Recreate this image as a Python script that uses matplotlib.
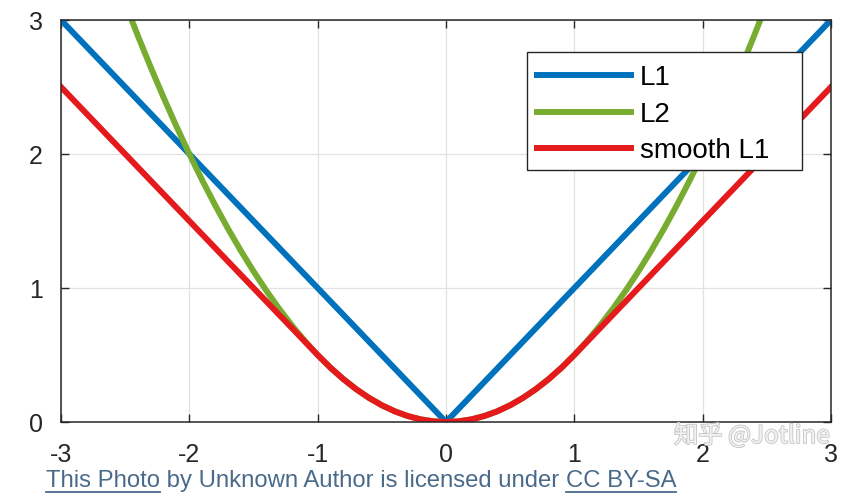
import matplotlib
matplotlib.use("Agg")
import matplotlib.pyplot as plt
import matplotlib.patheffects as pe
from matplotlib.lines import Line2D
from matplotlib.patches import Rectangle

# values (step 0.1 on x)
x_vals = [-3.0, -2.9, -2.8, -2.7, -2.6, -2.5, -2.4, -2.3, -2.2, -2.1,
          -2.0, -1.9, -1.8, -1.7, -1.6, -1.5, -1.4, -1.3, -1.2, -1.1,
          -1.0, -0.9, -0.8, -0.7, -0.6, -0.5, -0.4, -0.3, -0.2, -0.1,
          0.0, 0.1, 0.2, 0.3, 0.4, 0.5, 0.6, 0.7, 0.8, 0.9,
          1.0, 1.1, 1.2, 1.3, 1.4, 1.5, 1.6, 1.7, 1.8, 1.9,
          2.0, 2.1, 2.2, 2.3, 2.4, 2.5, 2.6, 2.7, 2.8, 2.9, 3.0]
l1_vals = [3.0, 2.9, 2.8, 2.7, 2.6, 2.5, 2.4, 2.3, 2.2, 2.1,
           2.0, 1.9, 1.8, 1.7, 1.6, 1.5, 1.4, 1.3, 1.2, 1.1,
           1.0, 0.9, 0.8, 0.7, 0.6, 0.5, 0.4, 0.3, 0.2, 0.1,
           0.0, 0.1, 0.2, 0.3, 0.4, 0.5, 0.6, 0.7, 0.8, 0.9,
           1.0, 1.1, 1.2, 1.3, 1.4, 1.5, 1.6, 1.7, 1.8, 1.9,
           2.0, 2.1, 2.2, 2.3, 2.4, 2.5, 2.6, 2.7, 2.8, 2.9, 3.0]
l2_vals = [4.5, 4.205, 3.92, 3.645, 3.38, 3.125, 2.88, 2.645, 2.42, 2.205,
           2.0, 1.805, 1.62, 1.445, 1.28, 1.125, 0.98, 0.845, 0.72, 0.605,
           0.5, 0.405, 0.32, 0.245, 0.18, 0.125, 0.08, 0.045, 0.02, 0.005,
           0.0, 0.005, 0.02, 0.045, 0.08, 0.125, 0.18, 0.245, 0.32, 0.405,
           0.5, 0.605, 0.72, 0.845, 0.98, 1.125, 1.28, 1.445, 1.62, 1.805,
           2.0, 2.205, 2.42, 2.645, 2.88, 3.125, 3.38, 3.645, 3.92, 4.205, 4.5]
smooth_vals = [2.5, 2.4, 2.3, 2.2, 2.1, 2.0, 1.9, 1.8, 1.7, 1.6,
               1.5, 1.4, 1.3, 1.2, 1.1, 1.0, 0.9, 0.8, 0.7, 0.6,
               0.5, 0.405, 0.32, 0.245, 0.18, 0.125, 0.08, 0.045, 0.02, 0.005,
               0.0, 0.005, 0.02, 0.045, 0.08, 0.125, 0.18, 0.245, 0.32, 0.405,
               0.5, 0.6, 0.7, 0.8, 0.9, 1.0, 1.1, 1.2, 1.3, 1.4,
               1.5, 1.6, 1.7, 1.8, 1.9, 2.0, 2.1, 2.2, 2.3, 2.4, 2.5]
series_names = ["L1", "L2", "smooth L1"]
x_ticks = [-3, -2, -1, 0, 1, 2, 3]
y_ticks = [0, 1, 2, 3]

plt.rcParams['font.family'] = ['Liberation Sans', 'DejaVu Sans']

W, H = 848, 495
fig = plt.figure(figsize=(W / 100, H / 100), dpi=100)
ax = fig.add_axes([61 / W, 73 / H, 770 / W, 402 / H])

ax.plot(x_vals, l1_vals, color='#0072BD', lw=4.3, label=series_names[0])
ax.plot(x_vals, l2_vals, color='#77AC30', lw=4.3, label=series_names[1])
ax.plot(x_vals, smooth_vals, color='#E41A1C', lw=4.3, label=series_names[2])

ax.set_xlim(-3, 3)
ax.set_ylim(0, 3)
ax.set_xticks(x_ticks)
ax.set_yticks(y_ticks)
ax.set_xticklabels([str(t) for t in x_ticks])
ax.set_yticklabels([str(t) for t in y_ticks])
ax.grid(True, color='#e2e2e2', lw=0.9)
ax.set_axisbelow(True)
ax.tick_params(direction='in', length=6, width=1, colors='#262626',
               top=True, right=True, labelsize=18)
ax.tick_params(axis='x', pad=15)
ax.tick_params(axis='y', pad=13)
for s in ax.spines.values():
    s.set_color('#262626')
    s.set_linewidth(1.1)

# legend: MATLAB-style box with extra room on the right, drawn as its own frame
ax.add_patch(Rectangle((0.605, 0.627), 0.357, 0.293, transform=ax.transAxes,
                       facecolor='white', edgecolor='#262626', lw=1.0,
                       zorder=4.9, clip_on=False))
leg = ax.legend(loc='upper left', bbox_to_anchor=(0.618, 0.888), borderaxespad=0,
                fontsize=20, handlelength=3.4, handletextpad=0.3, labelspacing=0.38,
                frameon=False, borderpad=0)

# watermark
fig.text(752 / W, 1 - 436 / H, "知乎 @Jotline", fontsize=17.5, color='#f2f2f2',
         ha='center', va='center', family=['Noto Sans CJK SC', 'DejaVu Sans'],
         path_effects=[pe.withStroke(linewidth=1.2, foreground='#c4c4c4')])

# attribution line
cap_color = '#4a6a8a'
parts = [("This Photo", True), (" by Unknown Author is licensed under ", False), ("CC BY-SA", True)]
fig.canvas.draw()
renderer = fig.canvas.get_renderer()
xpos = 46 / W
ypos = 1 - 487 / H
for txt, link in parts:
    t = fig.text(xpos, ypos, txt, fontsize=17.2, color=cap_color,
                 ha='left', va='baseline')
    bb = t.get_window_extent(renderer).transformed(fig.transFigure.inverted())
    if link:
        fig.add_artist(Line2D([bb.x0, bb.x1], [1 - 492 / H, 1 - 492 / H],
                              color=cap_color, lw=1.3, transform=fig.transFigure))
    xpos = bb.x1

fig.savefig("out.png", dpi=100)
